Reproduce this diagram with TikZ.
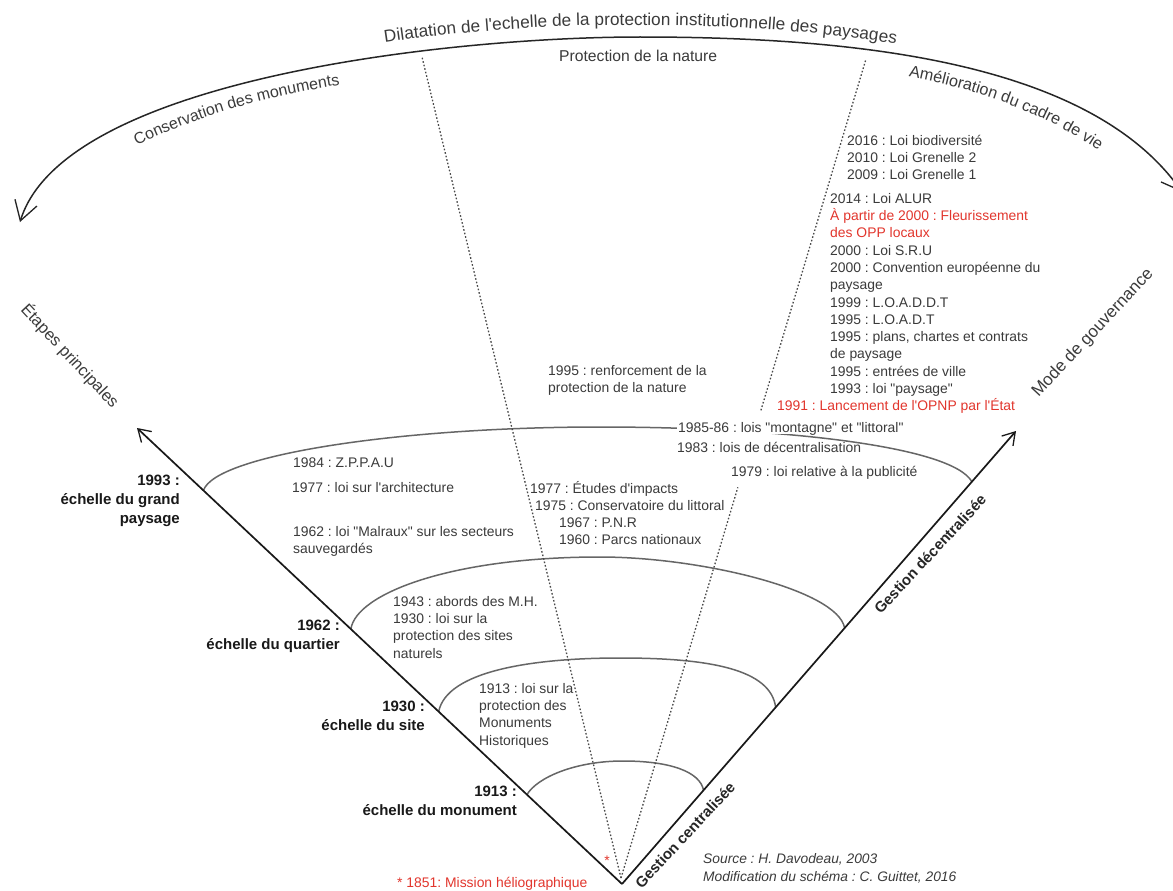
\documentclass[tikz,border=0pt]{standalone}
\usepackage{fontspec}
\setmainfont{Liberation Sans}[Ligatures=TeXOff]
\usetikzlibrary{arrows.meta,calc,decorations.text}
\frenchspacing

\definecolor{inkgray}{HTML}{3B3B3B}
\definecolor{ringgray}{HTML}{666666}
\definecolor{dotgray}{HTML}{4A4A4A}
\definecolor{oppred}{HTML}{E2362D}

\begin{document}
\begin{tikzpicture}[x=1pt, y=-1pt,
    axis/.style={line width=1.7pt, black!90, -{Straight Barb[length=12pt,width=15pt,line width=1.3pt]}},
    sweep/.style={line width=1.5pt, black!85, {Straight Barb[length=19pt,width=23pt,line width=1.3pt]}-{Straight Barb[length=19pt,width=23pt,line width=1.3pt]}},
    ring/.style={draw=ringgray, line width=1.5pt},
    guide/.style={draw=dotgray, line width=1.3pt, dash pattern=on 1.6pt off 2pt},
    event/.style={inner sep=0pt, align=left, text=inkgray, font=\fontsize{13.9}{17.3}\selectfont},
    stage/.style={anchor=north east, inner sep=0pt, align=right, text=black!90, font=\bfseries\fontsize{15}{19}\selectfont},
    mode/.style={inner sep=0pt, text=black!85, font=\bfseries\fontsize{15}{19}\selectfont},
    theme/.style={inner sep=0pt, text=inkgray, font=\fontsize{16.5}{19}\selectfont}
  ]
  \fill[white] (0,0) rectangle (1173,891);
  \useasboundingbox (0,0) rectangle (1173,891);

  % wedge
  \coordinate (apex) at (622,884);
  \coordinate (tipL) at (137,428);
  \coordinate (tipR) at (1016,431);
  \coordinate (focus) at (621,878);
  \coordinate (natL) at (422,57);
  \coordinate (natR) at (866,59);

  % big arc on top
  \draw[sweep] (20,222) .. controls (64,79) and (450,37) .. (640,37) .. controls (850,37) and (1090,60) .. (1182,192);
  \path[decorate, decoration={text along path, text align=center, raise=12pt, text color=inkgray,
      text={|\fontsize{17.2}{20}\selectfont|Dilatation de l'echelle de la protection institutionnelle des paysages}}]
    (250,84) .. controls (380,47) and (520,37) .. (640,37) .. controls (780,37) and (920,52) .. (1030,88);
  \path[decorate, decoration={text along path, text align=center, text color=inkgray,
      text={|\fontsize{16}{19}\selectfont|Conservation des monuments}}]
    (126,151) .. controls (195,116) and (265,96) .. (352,83);
  \path[decorate, decoration={text along path, text align=center, text color=inkgray,
      text={|\fontsize{16.2}{19}\selectfont|Amélioration du cadre de vie}}]
    (895,74) .. controls (975,88) and (1045,112) .. (1110,158);
  \node[theme, anchor=base west, font=\fontsize{15.7}{19}\selectfont] (nature) at (559,62) {Protection de la nature};
  \node[theme, rotate=-47] (etapes) at (70,356) {Étapes principales};
  \node[theme, rotate=47, font=\fontsize{17}{19}\selectfont] (gouv) at (1093,333) {Mode de gouvernance};

  % scales
  \draw[ring] ($(apex)!0.196!(tipL)$) .. controls (537,777.6) and (575,761) .. (623,761)
    .. controls (671,761) and (700,772) .. ($(apex)!0.207!(tipR)$);
  \draw[ring] ($(apex)!0.378!(tipL)$) .. controls (446.7,671.6) and (530,658) .. (620,658)
    .. controls (710,658) and (770.7,669.3) .. ($(apex)!0.390!(tipR)$);
  \draw[ring] ($(apex)!0.559!(tipL)$) .. controls (356,594) and (450,557) .. (600,557)
    .. controls (700,557) and (838,590) .. ($(apex)!0.565!(tipR)$);
  \draw[ring] ($(apex)!0.863!(tipL)$) .. controls (215,455) and (400,427) .. (600,427)
    .. controls (780,427) and (952,446) .. ($(apex)!0.888!(tipR)$);

  \draw[guide] (focus) -- (natL);
  \draw[guide] (focus) -- ($(focus)!0.477!(natR)$);
  \draw[guide] ($(focus)!0.571!(natR)$) -- (natR);

  \draw[axis] (apex) -- (tipL);
  \draw[axis] (apex) -- (tipR);

  % laws
  \node[event, anchor=north west] (lois2016) at (847,132.9) {\strut 2016 : Loi biodiversité\\2010 : Loi Grenelle 2\\2009 : Loi Grenelle 1};
  \node[event, anchor=north west] (lois2014) at (830,190.9) {\strut 2014 : Loi ALUR\\\textcolor{oppred}{À partir de 2000 : Fleurissement}\\\textcolor{oppred}{des OPP locaux}\\2000 : Loi S.R.U\\2000 : Convention européenne du\\paysage\\1999 : L.O.A.D.D.T\\1995 : L.O.A.D.T\\1995 : plans, chartes et contrats\\de paysage\\1995 : entrées de ville\\1993 : loi "paysage"};
  \node[event, anchor=base west, text=oppred] (opnp) at (777,410) {1991 : Lancement de l'OPNP par l'État};
  \node[event, anchor=north west] (renfo) at (548,362.9) {\strut 1995 : renforcement de la\\protection de la nature};
  \node[event, anchor=base west, fill=white, inner sep=1.5pt, text depth=0pt] (lois8586) at (676.5,432) {1985-86 : lois "montagne" et "littoral"};
  \node[event, anchor=base west] (lois1983) at (677,452) {1983 : lois de décentralisation};
  \node[event, anchor=base west] (lois1979) at (731,476) {1979 : loi relative à la publicité};
  \node[event, anchor=base west] (zppau) at (293,467) {1984 : Z.P.P.A.U};
  \node[event, anchor=base west] (archi) at (292,492) {1977 : loi sur l'architecture};
  \node[event, anchor=north west] (malraux) at (293,523.9) {\strut 1962 : loi "Malraux" sur les secteurs\\sauvegardés};
  \node[event, anchor=base west] (impacts) at (530,493) {1977 : Études d'impacts};
  \node[event, anchor=base west] (cdl) at (535,510) {1975 : Conservatoire du littoral};
  \node[event, anchor=north west] (pnr) at (559,514.9) {\strut 1967 : P.N.R\\1960 : Parcs nationaux};
  \node[event, anchor=north west] (abords) at (393,593.9) {\strut 1943 : abords des M.H.\\1930 : loi sur la\\protection des sites\\naturels};
  \node[event, anchor=north west] (mh) at (479,680.9) {\strut 1913 : loi sur la\\protection des\\Monuments\\Historiques};

  % stages on the left axis
  \node[stage] (s1993) at (180,471.7) {\strut 1993 :\\échelle du grand\\paysage};
  \node[stage] (s1962) at (340,616.7) {\strut 1962 :\\échelle du quartier};
  \node[stage] (s1930) at (425,697.7) {\strut 1930 :\\échelle du site};
  \node[stage] (s1913) at (517,782.7) {\strut 1913 :\\échelle du monument};

  % right axis
  \node[mode, rotate=47] (gestc) at (685,835) {Gestion centralisée};
  \node[mode, rotate=47] (gestd) at (930,554) {Gestion décentralisée};

  \node[event, anchor=base, text=oppred] (star) at (607,865) {*};
  \node[event, anchor=base west, text=oppred] (heliog) at (397,887) {* 1851: Mission héliographique};
  \node[event, anchor=north west, font=\itshape\fontsize{13.8}{18}\selectfont] (source) at (703,850.4) {\strut Source : H. Davodeau, 2003\\Modification du schéma : C. Guittet, 2016};
\end{tikzpicture}
\end{document}
